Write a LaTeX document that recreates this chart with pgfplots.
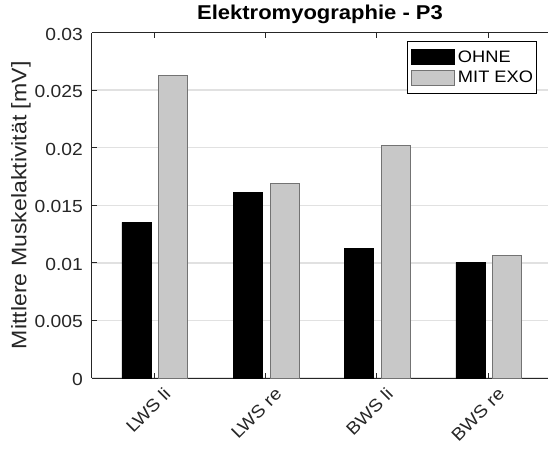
\documentclass[border=0pt]{standalone}
\usepackage{fontspec}
\setmainfont{Liberation Sans}[FakeStretch=1.1]
\usepackage{pgfplots}
\pgfplotsset{compat=1.18}

\definecolor{exo}{RGB}{200,200,200}
\definecolor{exoedge}{RGB}{115,115,115}
\definecolor{axcol}{RGB}{38,38,38}
\definecolor{gridcol}{RGB}{225,225,225}

\begin{document}
\begin{tikzpicture}
\useasboundingbox (-92pt,-70pt) rectangle (457pt,378pt);
\begin{axis}[
    at={(0pt,0pt)}, anchor=south west,
    scale only axis,
    width=456pt, height=345.5pt,
    xmin=0.4404, xmax=4.536,
    ymin=0, ymax=0.03,
    xtick={1,2,3,4},
    xticklabels={LWS li, LWS re, BWS li, BWS re},
    ytick={0,0.005,0.01,0.015,0.02,0.025,0.03},
    scaled y ticks=false,
    /pgf/number format/assume math mode=true,
    tick label style={font=\fontsize{17.5}{20}\selectfont, color=axcol},
    yticklabel style={/pgf/number format/fixed, /pgf/number format/precision=3,
        anchor=east, inner sep=0pt, xshift=-9pt, yshift=-1.5pt},
    xticklabel style={rotate=45, anchor=east, inner sep=0pt, yshift=-18.4pt},
    ylabel={Mittlere Muskelaktivität [mV]},
    ylabel style={font=\fontsize{21}{24}\selectfont, color=axcol,
        at={(axis description cs:0,0.5)}, anchor=center, yshift=71pt},
    title={\textbf{Elektromyographie - P3}},
    title style={font=\fontsize{20}{23}\selectfont,
        at={(axis description cs:0.5,1)}, anchor=base, yshift=7.5pt},
    axis x line=box, axis y line=left,
    axis line style={-, axcol, line width=1pt},
    tick style={axcol, line width=1pt},
    tick align=inside,
    major tick length=5pt,
    ymajorgrids,
    grid style={gridcol, line width=1.5pt},
    legend style={at={(0.9759,0.9754)}, anchor=north east, draw=black, line width=0.9pt,
        font=\fontsize{16.6}{19}\selectfont, inner xsep=3.5pt, inner ysep=7.8pt,
        row sep=5pt, column sep=3pt, nodes={inner sep=0pt}},
    legend cell align=left,
    legend image code/.code={\draw[#1, line width=0.8pt] (0pt,-7.5pt) rectangle (43pt,7.5pt);},
]
\addplot[ybar, bar width=29pt, bar shift=-18pt, fill=black, draw=black]
    coordinates {(1,0.01352) (2,0.01612) (3,0.01126) (4,0.01005)};
\addlegendentry{OHNE}
\addplot[ybar, bar width=29pt, bar shift=19pt, fill=exo, draw=exoedge, line width=0.8pt]
    coordinates {(1,0.02625) (2,0.01687) (3,0.0202) (4,0.01062)};
\addlegendentry{MIT EXO}
\end{axis}
\end{tikzpicture}
\end{document}
